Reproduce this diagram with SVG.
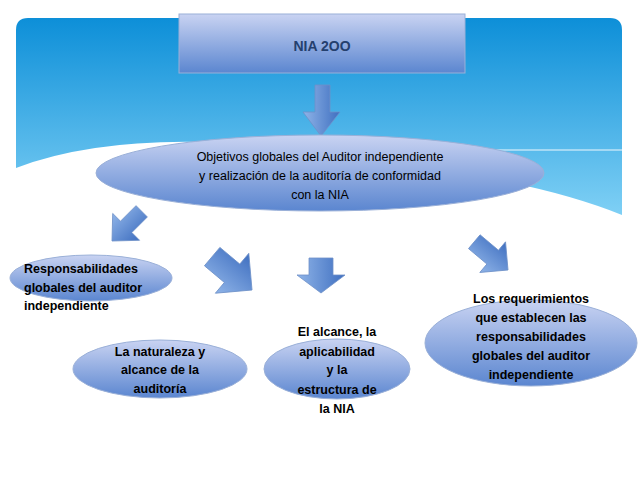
<svg xmlns="http://www.w3.org/2000/svg" width="638" height="479" viewBox="0 0 638 479">
<defs>
<linearGradient id="sky" x1="0" y1="0" x2="0" y2="1"><stop offset="0" stop-color="#0d8fd8"/><stop offset="1" stop-color="#7fd0f5"/></linearGradient>
<linearGradient id="node" x1="0" y1="0" x2="0" y2="1"><stop offset="0" stop-color="#c9d3f2"/><stop offset="1" stop-color="#5b86d0"/></linearGradient>
<linearGradient id="arr" x1="0" y1="0" x2="1" y2="0"><stop offset="0" stop-color="#8fb4e8"/><stop offset="1" stop-color="#3f6fc0"/></linearGradient>
<style>
.n{fill:url(#node);stroke:#9ab0d8;stroke-width:1}
.a{fill:url(#arr);stroke:#6e90c8;stroke-width:0.8}
.t{font-family:"Liberation Sans",Arial,sans-serif;font-size:12.5px;fill:#000;text-anchor:middle}
.b{font-weight:bold}
</style>
</defs>
<path d="M28,18 H610 Q622,18 622,30 V215 Q560,190 470,175 Q330,150 200,142 Q90,140 16,168 V30 Q16,18 28,18 Z" fill="url(#sky)"/>
<path d="M200,148 Q380,150 622,150" fill="none" stroke="#ffffff" stroke-opacity="0.6" stroke-width="1.5"/>
<g id="connectors">
<path class="a" d="M315,85 H330 V112 H340 L321,136 L303,112 H315 Z"/>
<path class="a" transform="translate(112,241) rotate(45)" d="M-8,-42 H8 V-20 H19 L0,0 L-19,-20 H-8 Z"/>
<path class="a" transform="translate(252,290) rotate(-50)" d="M-12,-52 H12 V-26 H26 L0,0 L-26,-26 H-12 Z"/>
<path class="a" transform="translate(321,293)" d="M-12,-35 H12 V-18 H24 L0,0 L-24,-18 H-12 Z"/>
<path class="a" transform="translate(508,270) rotate(-50)" d="M-9,-44 H9 V-20 H20 L0,0 L-20,-20 H-9 Z"/>
</g>
<g id="nia200"><rect class="n" x="179" y="14" width="286" height="59"/><text class="t b" x="322" y="51" style="fill:#24406e;font-size:14px">NIA 2OO</text></g>
<g id="objetivos"><ellipse class="n" cx="320" cy="173" rx="224" ry="38"/>
<text class="t" x="320" y="161">Objetivos globales del Auditor independiente</text>
<text class="t" x="320" y="180">y realización de la auditoría de conformidad</text>
<text class="t" x="320" y="199">con la NIA</text></g>
<g id="responsabilidades"><ellipse class="n" cx="91" cy="278" rx="81" ry="23"/>
<text class="t b" x="24" y="273" style="text-anchor:start">Responsabilidades</text>
<text class="t b" x="24" y="292" style="text-anchor:start">globales del auditor</text>
<text class="t b" x="24" y="310" style="text-anchor:start">independiente</text></g>
<g id="naturaleza"><ellipse class="n" cx="160" cy="369" rx="87" ry="29"/>
<text class="t b" x="160" y="356">La naturaleza y</text>
<text class="t b" x="160" y="374">alcance de la</text>
<text class="t b" x="160" y="393">auditoría</text></g>
<g id="alcance"><ellipse class="n" cx="337" cy="369" rx="73" ry="30"/>
<text class="t b" x="337" y="336">El alcance, la</text>
<text class="t b" x="337" y="356">aplicabilidad</text>
<text class="t b" x="337" y="374">y la</text>
<text class="t b" x="337" y="394">estructura de</text>
<text class="t b" x="337" y="413">la NIA</text></g>
<g id="requerimientos"><ellipse class="n" cx="531" cy="343" rx="106" ry="43"/>
<text class="t b" x="531" y="303">Los requerimientos</text>
<text class="t b" x="531" y="322">que establecen las</text>
<text class="t b" x="531" y="341">responsabilidades</text>
<text class="t b" x="531" y="360">globales del auditor</text>
<text class="t b" x="531" y="379">independiente</text></g>
</svg>
